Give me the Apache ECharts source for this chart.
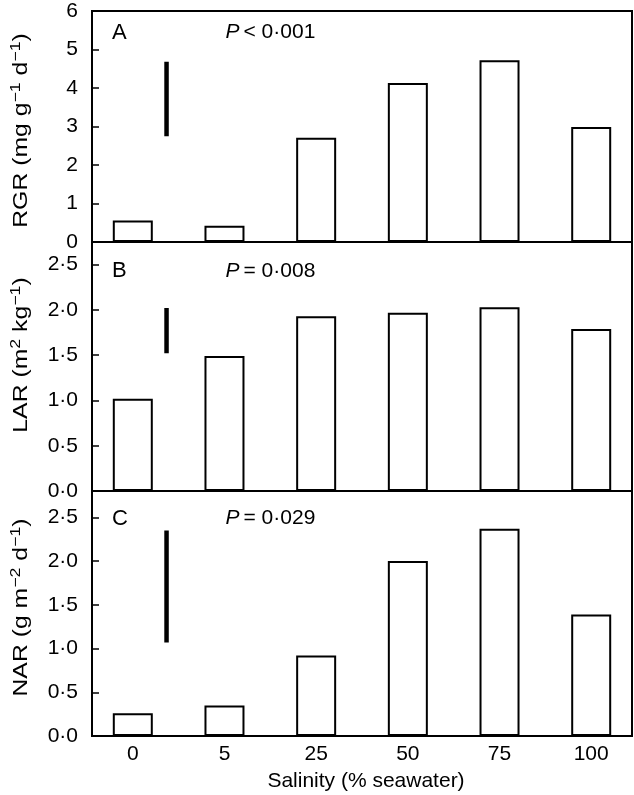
<!DOCTYPE html>
<html>
<head>
<meta charset="utf-8">
<script src="https://cdn.jsdelivr.net/npm/echarts@6/dist/echarts.min.js"></script>
<style>
html,body{margin:0;padding:0;background:#fff;}
#chart{width:634px;height:795px;}
</style>
</head>
<body>
<div id="chart"></div>
<script>
// ---- data ----
const categories = ['0', '5', '25', '50', '75', '100'];
const catPos = [0, 1, 2, 3, 4, 5];
const rgr = [0.56, 0.42, 2.71, 4.13, 4.72, 2.99];
const lar = [1.02, 1.49, 1.93, 1.97, 2.03, 1.79];
const nar = [0.26, 0.35, 0.92, 2.00, 2.37, 1.39];
const rgrErr = [2.75, 4.68];
const larErr = [1.52, 2.02];
const narErr = [1.07, 2.35];
const errX = 0.368;
const rgrTicks = [0, 1, 2, 3, 4, 5, 6];
const larTicks = [0, 0.5, 1.0, 1.5, 2.0, 2.5];
const narTicks = [0, 0.5, 1.0, 1.5, 2.0, 2.5];
const panelLetters = ['A', 'B', 'C'];
const pTexts = ['< 0·001', '= 0·008', '= 0·029'];
const xTitle = 'Salinity (% seawater)';

const FONT = 'Liberation Sans, Arial, Helvetica, sans-serif';
const FS = 21;

const chart = echarts.init(document.getElementById('chart'), null, {renderer: 'canvas'});

const grids = [
  {left: 92, right: 2, top: 11, height: 231},
  {left: 92, right: 2, top: 242, height: 249},
  {left: 92, right: 2, top: 491, height: 245}
].map(g => Object.assign(g, {show: true, borderColor: '#000', borderWidth: 2, backgroundColor: 'transparent', outerBoundsMode: 'none', containLabel: false}));

const xAxes = [0, 1, 2].map(i => ({
  type: 'value', gridIndex: i, min: -0.445, max: 5.445,
  axisLine: {show: false, onZero: false}, axisTick: {show: false}, splitLine: {show: false},
  axisLabel: i === 2 ? {
    show: true, customValues: catPos, margin: 8,
    formatter: v => categories[Math.round(v)],
    color: '#000', fontSize: FS, fontFamily: FONT
  } : {show: false}
}));

function fmt1(v) { return v.toFixed(1).replace('.', '·'); }
function yAx(i, max, ticks, formatter) {
  return {
    type: 'value', gridIndex: i, min: 0, max: max, position: 'left',
    splitLine: {show: false},
    axisLine: {show: true, onZero: false, lineStyle: {color: '#000', width: 2}},
    axisTick: {show: true, inside: true, length: 7, customValues: ticks, lineStyle: {color: '#000', width: 1.5}},
    axisLabel: {show: true, customValues: ticks, formatter: formatter, margin: 14,
      color: '#000', fontSize: FS, fontFamily: FONT}
  };
}
const yAxes = [
  yAx(0, 6, rgrTicks, v => String(Math.round(v))),
  yAx(1, 2.75, larTicks, fmt1),
  yAx(2, 2.8, narTicks, fmt1)
];

function barSeries(i, vals) {
  return {
    type: 'bar', xAxisIndex: i, yAxisIndex: i, barWidth: 40,
    data: vals.map((v, k) => [catPos[k], v]),
    itemStyle: {color: '#fff', borderColor: '#000', borderWidth: 2},
    silent: true, animation: false
  };
}
function errSeries(i, e) {
  return {
    type: 'line', xAxisIndex: i, yAxisIndex: i, symbol: 'none',
    data: [[errX, e[0]], [errX, e[1]]],
    lineStyle: {color: '#000', width: 4.5, cap: 'butt'},
    silent: true, animation: false
  };
}

const supS = {fontSize: 15, fontFamily: FONT, color: '#000', verticalAlign: 'top', lineHeight: 24};
const baseS = {fontSize: FS, fontFamily: FONT, color: '#000', lineHeight: 24, verticalAlign: 'bottom'};
function yTitle(x, y, text, sx) {
  return {type: 'text', x: x, y: y, rotation: Math.PI / 2, scaleX: sx, scaleY: 0.95, silent: true,
    style: {text: text, align: 'center', verticalAlign: 'middle', rich: {b: baseS, s: supS}}};
}
const pRich = {
  p: {fontSize: FS, fontFamily: FONT, fontStyle: 'italic', color: '#000', padding: [0, 4, 0, 0]},
  n: {fontSize: FS, fontFamily: FONT, color: '#000'}
};
const letterY = [32.5, 271, 518.5];
const graphics = [];
letterY.forEach((y, i) => {
  graphics.push({type: 'text', x: 112, y: y, silent: true,
    style: {text: panelLetters[i], fontSize: 22, fontFamily: FONT, fill: '#000', align: 'left', verticalAlign: 'middle'}});
  graphics.push({type: 'text', x: 225.5, y: y, silent: true,
    style: {text: '{p|P}{n|' + pTexts[i] + '}', rich: pRich, align: 'left', verticalAlign: 'middle'}});
});
graphics.push(yTitle(20, 130.5, '{b|RGR (mg g}{s|−1}{b| d}{s|−1}{b|)}', 1.18));
graphics.push(yTitle(20, 355, '{b|LAR (m}{s|2}{b| kg}{s|−1}{b|)}', 1.18));
graphics.push(yTitle(20, 607.5, '{b|NAR (g m}{s|−2}{b| d}{s|−1}{b|)}', 1.18));
graphics.push({type: 'text', x: 366, y: 781, silent: true,
  style: {text: xTitle, fontSize: FS, fontFamily: FONT, fill: '#000', align: 'center', verticalAlign: 'middle'}});

chart.setOption({
  backgroundColor: '#fff',
  animation: false,
  grid: grids,
  xAxis: xAxes,
  yAxis: yAxes,
  series: [
    barSeries(0, rgr), barSeries(1, lar), barSeries(2, nar),
    errSeries(0, rgrErr), errSeries(1, larErr), errSeries(2, narErr)
  ],
  graphic: graphics
});
</script>
</body>
</html>
